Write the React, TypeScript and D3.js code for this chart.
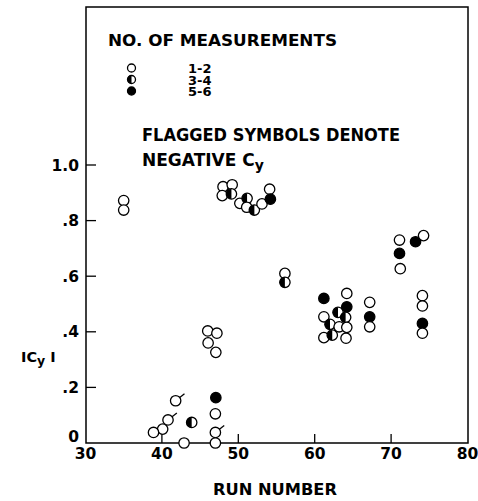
import React from "react";
import * as d3 from "d3";

// run number, |Cy|, measurement class (0: 1-2, 1: 3-4, 2: 5-6), flagged (negative Cy)
const runs = [35, 35, 48, 47.9, 49.2, 49.1, 50.2, 51.15, 51.1, 52.1, 53.1, 54.1, 54.2, 56.1, 56.1,
  61.2, 61.2, 62.0, 61.2, 62.3, 63.2, 63.05, 64.2, 64.2, 64.05, 64.2, 64.1, 67.2, 67.2, 67.2,
  71.1, 71.1, 71.2, 73.2, 74.25, 74.1, 74.1, 74.1, 74.1,
  46.0, 47.2, 46.05, 47.06, 47.06, 47.0, 47.0, 47.0, 42.9, 43.9, 41.8, 40.8, 40.1, 38.9];
const cyValues = [0.872, 0.838, 0.922, 0.89, 0.929, 0.896, 0.862, 0.88, 0.848, 0.838, 0.86, 0.913, 0.877, 0.61, 0.578,
  0.52, 0.454, 0.427, 0.379, 0.388, 0.418, 0.47, 0.538, 0.49, 0.452, 0.416, 0.377, 0.506, 0.454, 0.418,
  0.73, 0.682, 0.627, 0.724, 0.746, 0.53, 0.493, 0.43, 0.395,
  0.403, 0.395, 0.36, 0.326, 0.163, 0.105, 0.038, 0.0, 0.0, 0.074, 0.152, 0.083, 0.05, 0.038];
const classes = [0, 0, 0, 0, 0, 1, 0, 1, 0, 1, 0, 0, 2, 0, 1,
  2, 0, 1, 0, 1, 0, 1, 0, 2, 1, 0, 0, 0, 2, 0,
  0, 2, 0, 2, 0, 0, 0, 2, 0,
  0, 0, 0, 0, 2, 0, 0, 0, 0, 1, 0, 0, 0, 0];
const flagged = [0, 0, 0, 0, 0, 0, 0, 0, 0, 0, 0, 0, 0, 0, 0,
  0, 0, 0, 0, 0, 0, 0, 0, 0, 0, 0, 0, 0, 0, 0,
  0, 0, 0, 0, 0, 0, 0, 0, 0,
  0, 0, 0, 0, 0, 0, 1, 0, 0, 0, 1, 1, 0, 0];

const xTicks = [30, 40, 50, 60, 70, 80];
const yTicks = [0, 0.2, 0.4, 0.6, 0.8, 1.0];
const yTickLabels = ["0", ".2", ".4", ".6", ".8", "1.0"];
const legendLabels = ["1-2", "3-4", "5-6"];

const W = 478, H = 501;
const left = 86, right = 468, top = 7, bottom = 443;
const FONT = "'DejaVu Sans', 'Liberation Sans', Arial, sans-serif";

function Marker({ cx, cy, r, cls }: { cx: number; cy: number; r: number; cls: number }) {
  if (cls === 0) return <circle cx={cx} cy={cy} r={r} fill="#fff" stroke="#000" strokeWidth={1.3} />;
  if (cls === 2) return <circle cx={cx} cy={cy} r={r} fill="#000" stroke="#000" strokeWidth={1.3} />;
  return (
    <g>
      <circle cx={cx} cy={cy} r={r} fill="#fff" stroke="#000" strokeWidth={1.3} />
      <path d={`M${cx},${cy - r} A${r},${r} 0 0 0 ${cx},${cy + r} Z`} fill="#000" />
    </g>
  );
}

export default function App() {
  const x = d3.scaleLinear().domain([30, 80]).range([85.5, 467.5]);
  const y = d3.scaleLinear().domain([0, 1]).range([443, 165]);
  const r = 5.2;
  const ang = (-38 * Math.PI) / 180;
  return (
    <svg width={W} height={H} style={{ position: "absolute", left: 0, top: 0 }} fontFamily={FONT} fontWeight="bold">
      <rect x={0} y={0} width={W} height={H} fill="#fff" />
      <rect x={left} y={top} width={right - left} height={bottom - top} fill="none" stroke="#000" strokeWidth={1.5} />
      {xTicks.slice(1, -1).map((t) => (
        <line key={t} x1={x(t)} x2={x(t)} y1={bottom} y2={bottom - 9} stroke="#000" strokeWidth={1.3} />
      ))}
      {yTicks.slice(1).map((t) => (
        <line key={t} x1={left} x2={left + 10} y1={y(t)} y2={y(t)} stroke="#000" strokeWidth={1.3} />
      ))}
      {xTicks.map((t) => (
        <text key={t} x={x(t)} y={459} textAnchor="middle" fontSize={15.5}>{t}</text>
      ))}
      {yTicks.map((t, i) => (
        <text key={t} x={79} y={i === 0 ? y(t) - 1.5 : y(t) + 5.5} textAnchor="end" fontSize={15.5}>{yTickLabels[i]}</text>
      ))}
      <text x={213} y={495} fontSize={16} textLength={124} lengthAdjust="spacingAndGlyphs">RUN NUMBER</text>
      <text x={21} y={362} fontSize={14.5}>
        IC<tspan fontSize={12.5} dy={3}>y</tspan><tspan dy={-3}> I</tspan>
      </text>
      {/* legend */}
      <text x={108} y={46} fontSize={16} textLength={229} lengthAdjust="spacingAndGlyphs">NO. OF MEASUREMENTS</text>
      {legendLabels.map((l, i) => (
        <g key={l}>
          <Marker cx={131.5} cy={68 + i * 11.5} r={4} cls={i} />
          <text x={188} y={73 + i * 11.5} fontSize={13}>{l}</text>
        </g>
      ))}
      <text x={142} y={141} fontSize={17} textLength={258} lengthAdjust="spacingAndGlyphs">FLAGGED SYMBOLS DENOTE</text>
      <text x={142} y={166} fontSize={17}>
        NEGATIVE C<tspan fontSize={14} dy={4}>y</tspan>
      </text>
      {/* data */}
      {runs.map((rn, i) => {
        const cx = x(rn), cy = y(cyValues[i]);
        return (
          <g key={i}>
            {flagged[i] ? (
              <line x1={cx + r * Math.cos(ang)} y1={cy + r * Math.sin(ang)} x2={cx + (r + 6) * Math.cos(ang)} y2={cy + (r + 6) * Math.sin(ang)} stroke="#000" strokeWidth={1.3} />
            ) : null}
            <Marker cx={cx} cy={cy} r={r} cls={classes[i]} />
          </g>
        );
      })}
    </svg>
  );
}
